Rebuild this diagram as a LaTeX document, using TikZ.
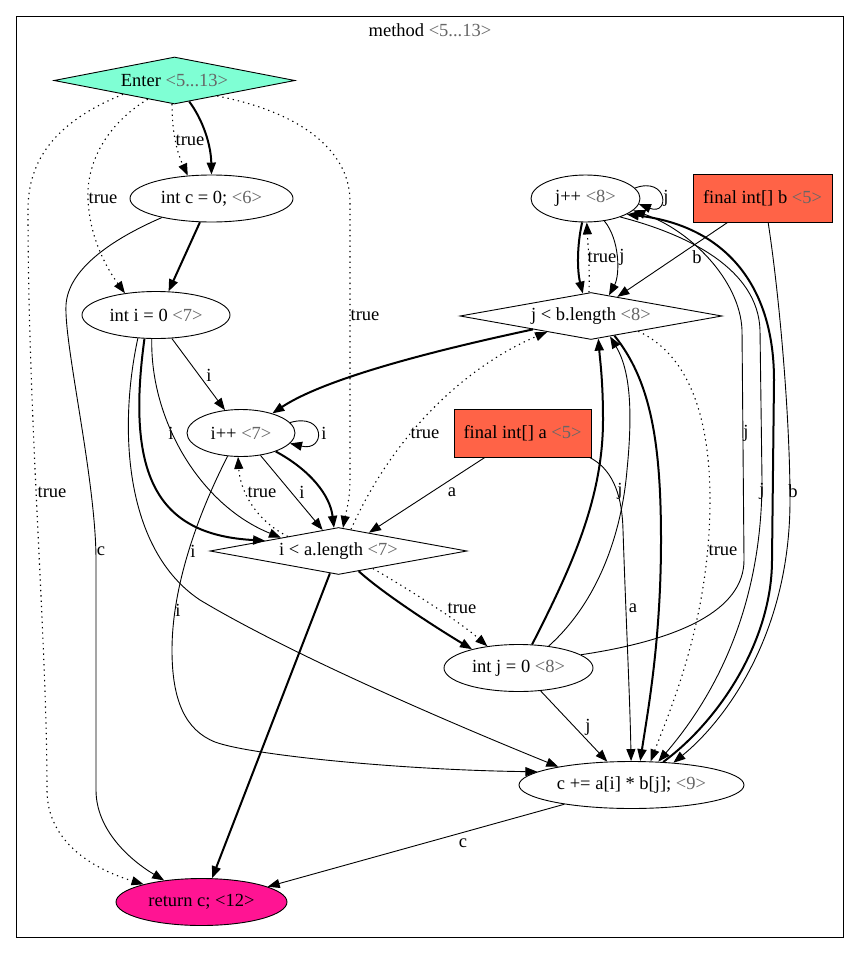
\documentclass[tikz,border=0pt]{standalone}
\usepackage{fontspec}
\setmainfont{Liberation Serif}
\usetikzlibrary{shapes.geometric,arrows.meta}
\definecolor{aquam}{HTML}{7FFFD4}
\definecolor{tomatoc}{HTML}{FF6347}
\definecolor{deeppk}{HTML}{FF1493}
\newcommand{\graytag}[1]{\textcolor{black!60}{#1}}
\begin{document}
\begin{tikzpicture}[x=1pt,y=-1pt,
  every node/.style={font=\fontsize{18.5}{21}\selectfont},
  el/.style={draw, ellipse, inner sep=0pt, line width=0.9pt, minimum height=47pt},
  dm/.style={draw, diamond, aspect=6, inner sep=0pt, line width=0.9pt, minimum height=47pt},
  bx/.style={draw, rectangle, fill=tomatoc, inner sep=0pt, line width=0.9pt, minimum height=48pt},
  tip/.style={-{Triangle[length=12pt,width=9pt]}},
  cf/.style={tip, line width=2pt},
  dd/.style={tip, line width=0.9pt},
  cd/.style={tip, line width=1.1pt, dash pattern=on 1.3pt off 4pt},
  lbl/.style={inner sep=0pt}]
\useasboundingbox (0,0) rectangle (859,953);
\draw[line width=0.9pt] (16,16) rectangle (843,937);
\node[lbl] (title) at (430,30) {method \graytag{<5...13>}};

% nodes
\node[dm, fill=aquam, minimum width=241pt] (Enter) at (174.5,80.5) {Enter \graytag{<5...13>}};
\node[el, minimum width=163pt] (intc) at (211.5,198.5) {int c = 0; \graytag{<6>}};
\node[el, minimum width=148pt] (inti) at (156,315) {int i = 0 \graytag{<7>}};
\node[el, minimum width=108pt] (ipp) at (241,433) {i++ \graytag{<7>}};
\node[dm, minimum width=257pt] (ilt) at (338.5,551) {i < a.length \graytag{<7>}};
\node[el, minimum width=149pt] (intj) at (518.5,668) {int j = 0 \graytag{<8>}};
\node[el, minimum width=225pt] (cpe) at (631.5,785) {c += a[i] * b[j]; \graytag{<9>}};
\node[el, fill=deeppk, minimum width=171pt] (ret) at (201.5,902) {return c; <12>};
\node[el, minimum width=109pt] (jpp) at (585.5,198.5) {j++ \graytag{<8>}};
\node[dm, minimum width=262pt] (jlt) at (591,316) {j < b.length \graytag{<8>}};
\node[bx, minimum width=137pt] (fa) at (522.5,433) {final int[] a \graytag{<5>}};
\node[bx, minimum width=139pt, minimum height=48pt] (fb) at (762.5,198) {final int[] b \graytag{<5>}};

% Enter edges
\draw[cf] (Enter.-55) .. controls (203,120) and (211,145) .. (intc.90);
\draw[cd] (Enter.-96) .. controls (172,130) and (176,150) .. (intc.136);
\node[lbl] (l1) at (190,140) {true};
\draw[cd] (Enter.215) .. controls (105,125) and (86,165) .. (88,200) .. controls (90,240) and (108,270) .. (inti.145);
\node[lbl] (l2) at (103,198) {true};
\draw[cd] (Enter.-20) .. controls (300,112) and (349,150) .. (350,200) -- (350,480) .. controls (350,500) and (346,512) .. (ilt.79);
\node[lbl] (l3) at (365,315) {true};
\draw[cd] (Enter.195) .. controls (55,122) and (28,160) .. (28,210) .. controls (28,420) and (47,640) .. (47,790) .. controls (47,840) and (90,868) .. (ret.163);
\node[lbl] (l4) at (52,492) {true};

% intc edges
\draw[cf] (intc.-116) -- (inti.62);
\draw[dd] (intc.201) .. controls (110,240) and (68,270) .. (66,305) .. controls (64,345) and (96,480) .. (96,560) -- (96,790) .. controls (96,830) and (130,860) .. (ret.150);
\node[lbl] (l5) at (101,551) {c};

% inti edges
\draw[dd] (inti.-56) -- (ipp.125);
\node[lbl] (l6) at (209,375) {i};
\draw[cf] (inti.244) .. controls (125,480) and (160,535) .. (ilt.172);
\draw[dd] (inti.260) .. controls (150,420) and (200,505) .. (ilt.167);
\node[lbl] (l7) at (171,433) {i};
\draw[dd] (inti.232) .. controls (118,430) and (125,550) .. (200,600) .. controls (300,660) and (480,735) .. (cpe.166);
\node[lbl] (l8) at (193,551) {i};

% ipp edges
\draw[dd] (ipp.12) .. controls (326,412) and (326,452) .. (ipp.-12);
\node[lbl] (l9) at (324,433) {i};
\draw[dd] (ipp.-49) -- (ilt.127);
\node[lbl] (l10) at (302,492) {i};
\draw[cf] (ipp.-28) .. controls (310,470) and (330,495) .. (ilt.101);
\draw[dd] (ipp.240) .. controls (195,520) and (172,590) .. (172,650) .. controls (172,700) and (185,730) .. (215,742) .. controls (250,755) and (400,770) .. (cpe.172);
\node[lbl] (l11) at (178,610) {i};

% ilt edges
\draw[cd] (ilt.164) .. controls (255,520) and (240,490) .. (ipp.263);
\node[lbl] (l12) at (262,492) {true};
\draw[cf] (ilt.249) -- (ret.66);
\draw[cf] (ilt.-45) .. controls (385,595) and (440,630) .. (intj.158);
\draw[cd] (ilt.-27) .. controls (410,590) and (460,622) .. (intj.145);
\node[lbl] (l13) at (462,608) {true};
\draw[cd] (ilt.60) .. controls (400,420) and (480,360) .. (jlt.200);
\node[lbl] (l14) at (425,433) {true};

% jlt edges
\draw[cf] (jlt.193) .. controls (460,345) and (330,375) .. (ipp.32);
\draw[cd] (jlt.95) .. controls (590,270) and (588,245) .. (jpp.-87);
\node[lbl] (l15) at (602,257) {true};
\draw[cf] (jlt.-40) .. controls (650,380) and (661,440) .. (661,540) .. controls (661,640) and (648,710) .. (cpe.70);
\draw[cd] (jlt.-18) .. controls (690,355) and (710,420) .. (710,500) .. controls (710,620) and (670,710) .. (cpe.51);
\node[lbl] (l16) at (723,550) {true};

% fa, fb edges
\draw[dd] (fa.213) -- (ilt.31);
\node[lbl] (l17) at (452,492) {a};
\draw[dd] (fa.-20.5) .. controls (610,468) and (622,490) .. (623,530) .. controls (626,620) and (630,700) .. (cpe.91);
\node[lbl] (l18) at (633,608) {a};
\draw[dd] (fb.215) -- (jlt.36);
\node[lbl] (l19) at (697,257) {b};
\draw[dd] (fb.-77) .. controls (780,300) and (790,420) .. (790,500) .. controls (790,640) and (720,725) .. (cpe.28);
\node[lbl] (l20) at (793,491) {b};

% jpp edges
\draw[cf] (jpp.-98) .. controls (577,245) and (577,270) .. (jlt.110);
\draw[dd] (jpp.-50) .. controls (620,240) and (620,275) .. (jlt.49);
\node[lbl] (l21) at (622,257) {j};
\draw[dd] (jpp.12) .. controls (668,176) and (670,216) .. (jpp.-6);
\node[lbl] (l22) at (666,198) {j};
\draw[dd] (jpp.-28) .. controls (690,235) and (758,270) .. (760,330) -- (762,480) .. controls (762,600) and (720,690) .. (cpe.41);
\node[lbl] (l23) at (762,491) {j};

% intj edges
\draw[cf] (intj.60) .. controls (570,570) and (603,500) .. (603,420) .. controls (603,380) and (600,360) .. (jlt.-72);
\draw[dd] (intj.36) .. controls (600,600) and (622,530) .. (627,470) .. controls (633,410) and (630,370) .. (jlt.-47);
\node[lbl] (l24) at (620,491) {j};
\draw[dd] (intj.12) .. controls (680,640) and (744,610) .. (744,560) -- (742,330) .. controls (740,280) and (690,230) .. (jpp.-14);
\node[lbl] (l25) at (746,433) {j};
\draw[dd] (intj.-46) -- (cpe.136);
\node[lbl] (l26) at (588,727) {j};

% cpe edges
\draw[cf] (cpe.36) .. controls (720,720) and (772,640) .. (772,560) -- (774,380) .. controls (774,280) and (720,225) .. (jpp.-21);
\draw[dd] (cpe.196) -- (ret.13);
\node[lbl] (l27) at (463,843) {c};
\end{tikzpicture}
\end{document}
